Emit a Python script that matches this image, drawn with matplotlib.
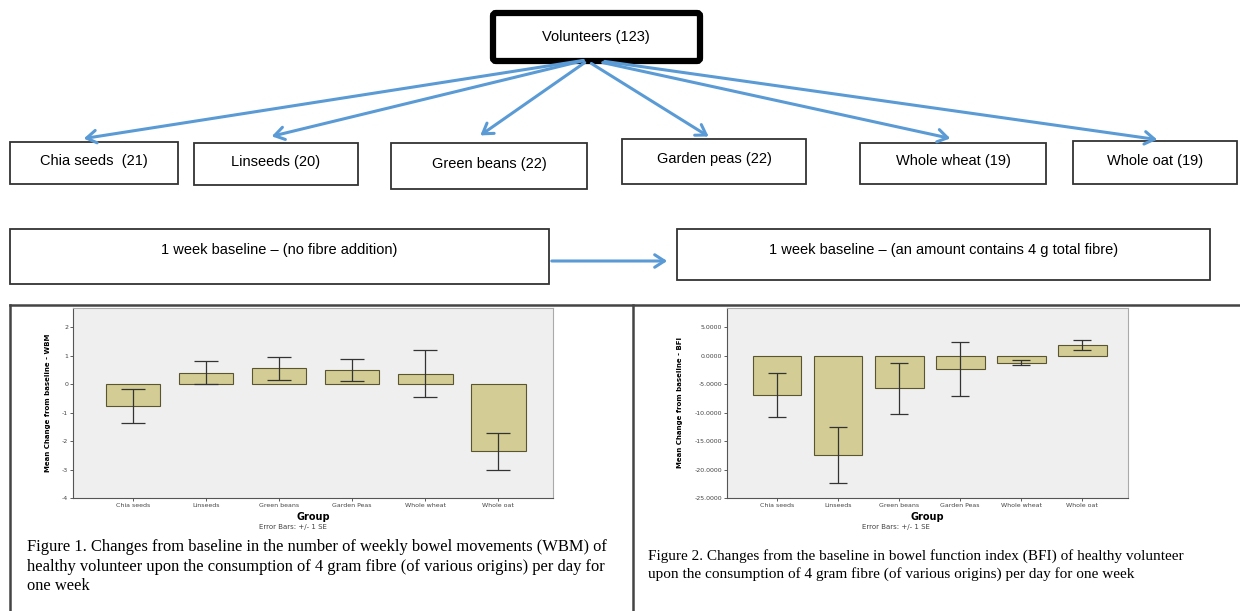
import numpy as np
import matplotlib
matplotlib.use('Agg')
import matplotlib.pyplot as plt
from matplotlib.patches import Rectangle, FancyBboxPatch

# data
groups = ['Chia seeds', 'Linseeds', 'Green beans', 'Garden Peas', 'Whole wheat', 'Whole oat']
wbm_mean = [-0.76, 0.40, 0.55, 0.50, 0.37, -2.36]
wbm_se = [0.59, 0.41, 0.40, 0.38, 0.84, 0.65]
bfi_mean = [-6.85, -17.5, -5.75, -2.3, -1.25, 1.9]
bfi_se = [3.85, 4.9, 4.45, 4.7, 0.45, 0.85]
wbm_ticks = [2, 1, 0, -1, -2, -3, -4]
bfi_ticks = [5, 0, -5, -10, -15, -20, -25]

top_label = 'Volunteers (123)'
arm_labels = ['Chia seeds  (21)', 'Linseeds (20)', 'Green beans (22)',
              'Garden peas (22)', 'Whole wheat (19)', 'Whole oat (19)']
phase_labels = ['1 week baseline \u2013 (no fibre addition)',
                '1 week baseline \u2013 (an amount contains 4 g total fibre)']
caption1 = ('Figure 1. Changes from baseline in the number of weekly bowel movements (WBM) of\n'
            'healthy volunteer upon the consumption of 4 gram fibre (of various origins) per day for\n'
            'one week')
caption2 = ('Figure 2. Changes from the baseline in bowel function index (BFI) of healthy volunteer\n'
            'upon the consumption of 4 gram fibre (of various origins) per day for one week')

W, H = 1240, 611
blue = '#5b9bd5'
bar_col = '#d3cc94'
bar_edge = '#5a5530'

fig = plt.figure(figsize=(W / 100, H / 100), dpi=100)
bg = fig.add_axes([0, 0, 1, 1])
bg.set_xlim(0, W)
bg.set_ylim(H, 0)
bg.axis('off')

def px_axes(x0, y0, x1, y1):
    return fig.add_axes([x0 / W, 1 - y1 / H, (x1 - x0) / W, (y1 - y0) / H])

sans = 'Liberation Sans'

# top box
bg.add_patch(FancyBboxPatch((493, 13), 207, 48, boxstyle='round,pad=0,rounding_size=3',
                            fc='white', ec='black', lw=4.5))
bg.text(596, 37, top_label, ha='center', va='center', fontsize=10.5, family=sans)

# arm boxes: (x0, y0, x1, y1), arrow tip
arm_boxes = [(10, 142, 178, 184), (194, 143, 358, 185), (391, 143, 587, 189),
             (622, 139, 806, 184), (860, 143, 1046, 184), (1073, 141, 1237, 184)]
arm_tips = [(81, 139), (269, 137), (478, 137), (711, 138), (953, 139), (1160, 140)]
arm_src = [(586, 60), (586, 60), (587, 61), (589, 62), (600, 62), (602, 61)]
for (x0, y0, x1, y1), lab in zip(arm_boxes, arm_labels):
    bg.add_patch(Rectangle((x0, y0), x1 - x0, y1 - y0, fc='white', ec='#333333', lw=1.3))
    bg.text((x0 + x1) / 2, (y0 + y1) / 2 - 2, lab, ha='center', va='center',
            fontsize=10.5, family=sans)
for src, tip in zip(arm_src, arm_tips):
    bg.annotate('', xy=tip, xytext=src,
                arrowprops=dict(arrowstyle='->,head_length=0.7,head_width=0.45',
                                color=blue, lw=2.2))

# phase boxes
phase_boxes = [(10, 229, 549, 284), (677, 229, 1210, 280)]
for (x0, y0, x1, y1), lab in zip(phase_boxes, phase_labels):
    bg.add_patch(Rectangle((x0, y0), x1 - x0, y1 - y0, fc='white', ec='#333333', lw=1.3))
    bg.text((x0 + x1) / 2, 250, lab, ha='center', va='center', fontsize=10.5, family=sans)
bg.annotate('', xy=(670, 261), xytext=(549, 261),
            arrowprops=dict(arrowstyle='->,head_length=0.7,head_width=0.45', color=blue, lw=2.2))

# lower panel frames
bg.plot([10, 1240], [305, 305], color='#444444', lw=1.8)
bg.plot([10, 10], [305, H], color='#444444', lw=1.8)
bg.plot([633, 633], [305, H], color='#444444', lw=1.8)

# captions
bg.text(27, 539, caption1, ha='left', va='top', fontsize=11.9, family='Liberation Serif',
        linespacing=1.3)
bg.text(648, 549, caption2, ha='left', va='top', fontsize=11, family='Liberation Serif',
        linespacing=1.42)


def bar_panel(ax, means, ses, ticks, ticklabels, ylim, ylabel, width, capsize):
    x = np.arange(len(groups))
    ax.set_facecolor('#efefef')
    ax.bar(x, means, width=width, color=bar_col, edgecolor=bar_edge, lw=0.8, zorder=2)
    ax.errorbar(x, means, yerr=ses, fmt='none', ecolor='#333333', elinewidth=0.9,
                capsize=capsize, capthick=0.9, zorder=3)
    ax.set_xlim(-0.82, len(groups) - 0.25)
    ax.set_ylim(*ylim)
    ax.set_yticks(ticks)
    ax.set_yticklabels(ticklabels)
    ax.set_xticks(x)
    ax.set_xticklabels(groups)
    ax.tick_params(labelsize=4.5, length=2, width=0.6, colors='#444444', pad=1.5)
    for s in ax.spines.values():
        s.set_color('#aaaaaa')
        s.set_linewidth(0.8)
    ax.spines['left'].set_color('#555555')
    ax.spines['bottom'].set_color('#555555')
    ax.set_ylabel(ylabel, fontsize=5, fontweight='bold', labelpad=8)
    ax.set_xlabel('Group', fontsize=7, fontweight='bold', labelpad=3)


ax1 = px_axes(73, 308, 553, 498)
bar_panel(ax1, wbm_mean, wbm_se, wbm_ticks, [str(t) for t in wbm_ticks], (-4, 2.67),
          'Mean Change from baseline - WBM', 0.75, 8.5)
bg.text(293, 527, 'Error Bars: +/- 1 SE', ha='center', va='center', fontsize=5, color='#444444')

ax2 = px_axes(727, 308, 1128, 498)
bar_panel(ax2, bfi_mean, bfi_se, bfi_ticks, ['%.4f' % t for t in bfi_ticks], (-25, 8.4),
          'Mean Change from baseline - BFI', 0.8, 6.3)
bg.text(896, 527, 'Error Bars: +/- 1 SE', ha='center', va='center', fontsize=5, color='#444444')

fig.savefig('out.png', dpi=100)
